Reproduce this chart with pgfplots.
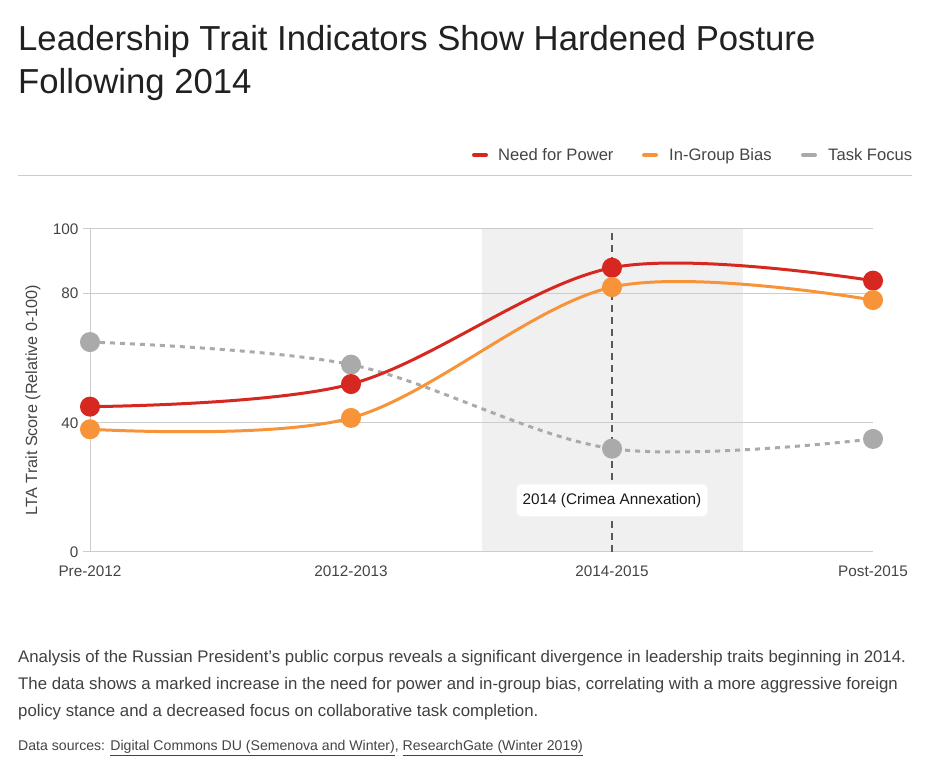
\documentclass[border=0pt]{standalone}
\usepackage{pgfplots}
\pgfplotsset{compat=1.18}
\usepackage{fontspec}
\setmainfont{Liberation Sans}
\definecolor{cRed}{RGB}{214,40,32}
\definecolor{cOrange}{RGB}{247,148,58}
\definecolor{cGray}{RGB}{170,170,170}
\definecolor{cGrid}{RGB}{204,204,204}
\definecolor{cShade}{RGB}{240,240,240}
\definecolor{cText}{RGB}{68,68,68}
\begin{document}
\begin{tikzpicture}[x=1bp,y=1bp]
\useasboundingbox (0,0) rectangle (931,774);
% title
\node[anchor=base west,inner sep=0,font=\fontsize{34.7bp}{40bp}\selectfont,text=black!87] at (18,723) {Leadership Trait Indicators Show Hardened Posture};
\node[anchor=base west,inner sep=0,font=\fontsize{34.7bp}{40bp}\selectfont,text=black!87] at (18,680) {Following 2014};
% legend
\draw[cRed,line width=4bp,line cap=round] (474,619) -- (486,619);
\node[anchor=base west,inner sep=0,font=\fontsize{16.6bp}{19bp}\selectfont,text=cText] at (498,613.5) {Need for Power};
\draw[cOrange,line width=4bp,line cap=round] (644,619) -- (656,619);
\node[anchor=base west,inner sep=0,font=\fontsize{16.6bp}{19bp}\selectfont,text=cText] at (669,613.5) {In-Group Bias};
\draw[cGray,line width=4bp,line cap=round] (803,619) -- (815,619);
\node[anchor=base west,inner sep=0,font=\fontsize{16.6bp}{19bp}\selectfont,text=cText] at (828,613.5) {Task Focus};
\draw[cGrid,line width=1bp] (18,598) -- (912,598);
% y label
\node[rotate=90,inner sep=0,font=\fontsize{16.2bp}{19bp}\selectfont,text=cText] at (33,374) {LTA Trait Score (Relative 0-100)};
\begin{axis}[
  at={(90bp,222bp)}, anchor=origin,
  width=783bp, height=323bp, scale only axis,
  xmin=0, xmax=3, ymin=0, ymax=100,
  axis x line*=bottom, axis y line*=left,
  axis line style={draw=cGrid, line width=1bp, -},
  xtick={0,1,2,3},
  xticklabels={Pre-2012,2012-2013,2014-2015,Post-2015},
  x tick style={draw=none},
  ytick={0,40,80,100},
  y tick style={draw=cGrid, line width=1bp},
  major tick length=7bp, tick align=outside,
  ymajorgrids, major grid style={draw=cGrid, line width=1bp},
  tick label style={font=\fontsize{15.3bp}{18bp}\selectfont, text=cText},
  /pgf/number format/assume math mode=true,
  xticklabel style={yshift=-3bp},
  yticklabel style={xshift=-1bp},
  clip=false,
]
\fill[cShade] (axis cs:1.5,0) rectangle (axis cs:2.5,100);
\draw[cGrid, line width=1bp] (axis cs:1.5,40) -- (axis cs:2.5,40);
\draw[cGrid, line width=1bp] (axis cs:1.5,80) -- (axis cs:2.5,80);
\draw[cGrid, line width=1bp] (axis cs:1.5,100) -- (axis cs:2.5,100);
\draw[cGrid, line width=1bp] (axis cs:1.5,0) -- (axis cs:2.5,0);
\draw[black!65, line width=2bp, dash pattern=on 7bp off 5bp] (axis cs:2,0) -- (axis cs:2,100);
\addplot[cGray, line width=3bp, dash pattern=on 5bp off 5bp, smooth, tension=0.55,
  mark=*, mark size=8.5bp, mark options={solid, fill=cGray, draw=none}]
  coordinates {(0,65) (1,58) (2,32) (3,35)};
\addplot[cRed, line width=3bp, smooth, tension=0.55,
  mark=*, mark size=8.5bp, mark options={fill=cRed, draw=none}]
  coordinates {(0,45) (1,52) (2,88) (3,84)};
\addplot[cOrange, line width=3bp, smooth, tension=0.55,
  mark=*, mark size=8.5bp, mark options={fill=cOrange, draw=none}]
  coordinates {(0,38) (1,41.5) (2,82) (3,78)};
\node[fill=white, rounded corners=5bp, minimum width=191bp, minimum height=32bp, inner sep=0,
  font=\fontsize{15.3bp}{18bp}\selectfont, text=black!90] at (axis cs:2,16) {2014 (Crimea Annexation)};
\end{axis}
% description
\node[anchor=base west,inner sep=0,font=\fontsize{16.8bp}{20bp}\selectfont,text=black!75] at (18,111) {Analysis of the Russian President's public corpus reveals a significant divergence in leadership traits beginning in 2014.};
\node[anchor=base west,inner sep=0,font=\fontsize{16.8bp}{20bp}\selectfont,text=black!75] at (18,84) {The data shows a marked increase in the need for power and in-group bias, correlating with a more aggressive foreign};
\node[anchor=base west,inner sep=0,font=\fontsize{16.8bp}{20bp}\selectfont,text=black!75] at (18,57) {policy stance and a decreased focus on collaborative task completion.};
\node[anchor=base west,inner sep=0,font=\fontsize{14.1bp}{17bp}\selectfont,text=cText] at (18,23) {Data sources: \underline{Digital Commons DU (Semenova and Winter)}, \underline{ResearchGate (Winter 2019)}};
\end{tikzpicture}
\end{document}
